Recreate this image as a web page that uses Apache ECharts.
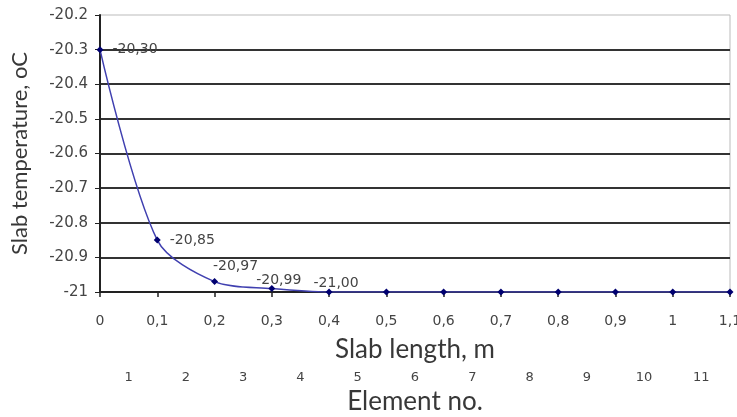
<!DOCTYPE html>
<html><head><meta charset="utf-8">
<script src="https://cdn.jsdelivr.net/npm/echarts@6/dist/echarts.min.js"></script>
<style>html,body{margin:0;padding:0;background:#fff}#c{width:737px;height:417px}</style>
</head><body><div id="c"></div>
<script>
const slabLength = [0, 0.1, 0.2, 0.3, 0.4, 0.5, 0.6, 0.7, 0.8, 0.9, 1.0, 1.1];
const slabTemp = [-20.30, -20.85, -20.97, -20.99, -21.00, -21.00, -21.00, -21.00, -21.00, -21.00, -21.00, -21.00];
const labelledPoints = 5;
const elementNos = ['1','2','3','4','5','6','7','8','9','10','11'];

// label placement styles (not data)
const labelStyles = [
  { position: 'right', distance: 9, offset: [0, 0] },
  { position: 'right', distance: 9, offset: [0, 0] },
  { position: 'top', distance: 5, offset: [21, 0] },
  { position: 'top', distance: 0, offset: [7, 2] },
  { position: 'top', distance: 0, offset: [7, 2] }
];
const data = slabLength.map((x, i) => {
  const item = { value: [x, slabTemp[i]] };
  if (i < labelledPoints) {
    item.label = Object.assign({ show: true,
      formatter: slabTemp[i].toFixed(2).replace('.', ',') }, labelStyles[i]);
  }
  return item;
});

const tickFont = 'DejaVu Sans';
const titleFont = 'Lato';
const chart = echarts.init(document.getElementById('c'), null, {renderer: 'canvas'});
chart.setOption({
  animation: false,
  grid: { left: 100, right: 7, top: 15, bottom: 125, outerBoundsMode: 'none', containLabel: false,
    show: true, borderColor: '#bbb', borderWidth: 1 },
  xAxis: [{
    type: 'value', min: 0, max: 1.1, interval: 0.1,
    name: 'Slab length, m', nameLocation: 'middle', nameGap: 45,
    nameTextStyle: { fontFamily: titleFont, fontSize: 26, color: '#383838' },
    axisLine: { lineStyle: { color: '#222', width: 2 } },
    axisTick: { show: true, length: 5, lineStyle: { color: '#222', width: 1.5 } },
    splitLine: { show: false },
    axisLabel: { margin: 22, fontFamily: tickFont, fontSize: 14, color: '#444',
      formatter: v => Number(v.toFixed(1)).toString().replace('.', ',') }
  }, {
    type: 'category', position: 'bottom', offset: 76, data: elementNos, boundaryGap: true,
    name: 'Element no.', nameLocation: 'middle', nameGap: 20,
    nameTextStyle: { fontFamily: titleFont, fontSize: 26, color: '#383838' },
    axisLine: { show: false }, axisTick: { show: false },
    axisLabel: { margin: 3, fontFamily: tickFont, fontSize: 13, color: '#444' }
  }],
  yAxis: {
    type: 'value', min: -21, max: -20.2, interval: 0.1,
    name: 'Slab temperature, oC', nameLocation: 'middle', nameGap: 69,
    nameTextStyle: { fontFamily: titleFont, fontSize: 22, color: '#383838' },
    axisLine: { show: true, lineStyle: { color: '#222', width: 2 } },
    axisTick: { show: true, length: 5, lineStyle: { color: '#222' } },
    splitLine: { show: true, showMaxLine: false, lineStyle: { color: '#333', width: 2 } },
    axisLabel: { margin: 12, fontFamily: tickFont, fontSize: 15, color: '#444',
      formatter: v => Number(v.toFixed(1)).toString() }
  },
  series: [{
    type: 'line', data: data, smooth: 0.3,
    symbol: 'diamond', symbolSize: 7,
    lineStyle: { color: '#4040b0', width: 1.5 },
    itemStyle: { color: '#000070' },
    label: { show: false, fontFamily: tickFont, fontSize: 14, color: '#444' }
  }]
});
</script></body></html>
